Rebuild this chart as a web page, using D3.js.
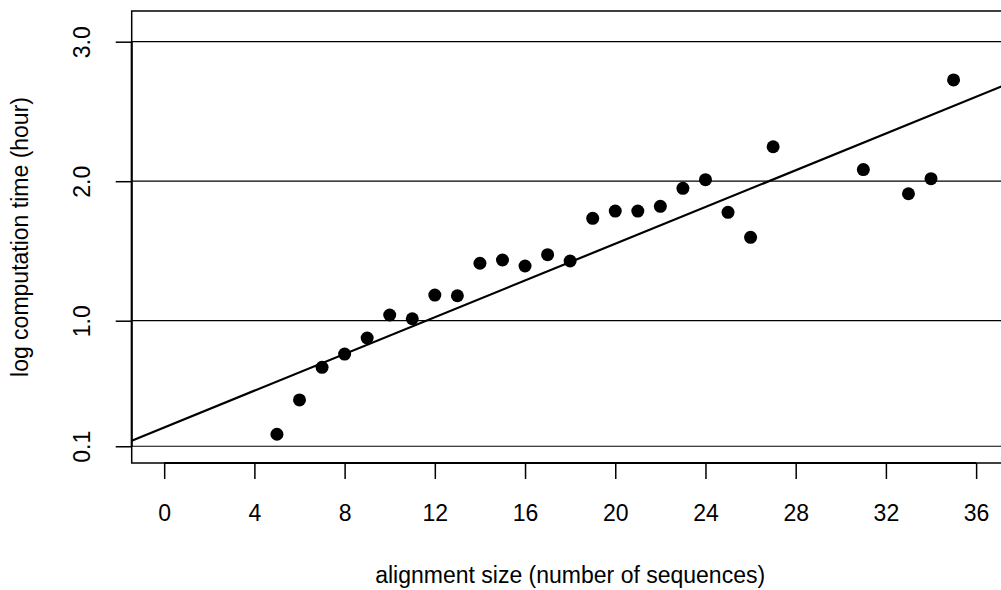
<!DOCTYPE html>
<html>
<head>
<meta charset="utf-8">
<script src="https://cdn.jsdelivr.net/npm/d3@7"></script>
<style>
  html, body { margin: 0; padding: 0; background: #fff; }
  svg text { font-family: "Liberation Sans", Arial, sans-serif; font-size: 23px; fill: #000; }
</style>
</head>
<body>
<div id="chart"></div>
<script>
// alignment size (number of sequences)
const SIZES = [5, 6, 7, 8, 9, 10, 11, 12, 13, 14, 15, 16, 17, 18, 19, 20, 21, 22, 23, 24, 25, 26, 27, 31, 33, 34, 35];
// log computation time (hour)
const LOG_TIMES = [0.186, 0.432, 0.666, 0.761, 0.876, 1.041, 1.014, 1.184, 1.179, 1.412, 1.435, 1.392, 1.473, 1.428,
  1.734, 1.786, 1.786, 1.82, 1.949, 2.011, 1.777, 1.598, 2.247, 2.083, 1.91, 2.018, 2.726];

// fitted line
const FIT_INTERCEPT = 0.2348;
const FIT_SLOPE = 0.06585;

const X_TICKS = [0, 4, 8, 12, 16, 20, 24, 28, 32, 36];
const Y_TICKS = [0.1, 1.0, 2.0, 3.0];
const Y_TICK_LABELS = ["0.1", "1.0", "2.0", "3.0"];

const renderChart = () => {
  const W = 1001, H = 590;
  const pLeft = 131.7, pRight = 1008.6, pTop = 11, pBottom = 463;

  const x = d3.scaleLinear().domain([-1.44, 37.44]).range([pLeft, pRight]);
  const y = d3.scaleLinear().domain([-0.02, 3.22]).range([pBottom, pTop]);

  const svg = d3.select("#chart").append("svg")
    .attr("width", W)
    .attr("height", H);

  // horizontal reference lines
  svg.append("g").selectAll("line")
    .data(Y_TICKS)
    .join("line")
    .attr("x1", pLeft)
    .attr("x2", pRight)
    .attr("y1", (d) => y(d))
    .attr("y2", (d) => y(d))
    .attr("stroke", "#000")
    .attr("stroke-width", 1.2);

  // fitted line
  const [x0, x1] = x.domain();
  svg.append("line")
    .attr("x1", x(x0))
    .attr("y1", y(FIT_INTERCEPT + FIT_SLOPE * x0))
    .attr("x2", x(x1))
    .attr("y2", y(FIT_INTERCEPT + FIT_SLOPE * x1))
    .attr("stroke", "#000")
    .attr("stroke-width", 2.2);

  // points
  svg.append("g").selectAll("circle")
    .data(SIZES.map((s, i) => ({ s, t: LOG_TIMES[i] })))
    .join("circle")
    .attr("cx", (d) => x(d.s))
    .attr("cy", (d) => y(d.t))
    .attr("r", 6.5)
    .attr("fill", "#000");

  // box
  svg.append("rect")
    .attr("x", pLeft)
    .attr("y", pTop)
    .attr("width", pRight - pLeft)
    .attr("height", pBottom - pTop)
    .attr("fill", "none")
    .attr("stroke", "#000")
    .attr("stroke-width", 1.5);

  // x axis
  const gx = svg.append("g")
    .attr("transform", `translate(0,${pBottom})`)
    .call(d3.axisBottom(x).tickValues(X_TICKS).tickSize(16).tickSizeOuter(0));
  gx.select(".domain").remove();
  gx.selectAll(".tick line").attr("stroke", "#000").attr("stroke-width", 1.5);
  gx.selectAll(".tick text")
    .attr("y", 57.5)
    .attr("dy", null)
    .attr("fill", "#000")
    .attr("font-family", null)
    .attr("font-size", null);
  gx.append("line")
    .attr("x1", x(X_TICKS[0]))
    .attr("x2", x(X_TICKS[X_TICKS.length - 1]))
    .attr("stroke", "#000")
    .attr("stroke-width", 2);

  // y axis
  const gy = svg.append("g")
    .attr("transform", `translate(${pLeft},0)`)
    .call(d3.axisLeft(y).tickValues(Y_TICKS).tickFormat((d, i) => Y_TICK_LABELS[i]).tickSize(16).tickSizeOuter(0));
  gy.select(".domain").remove();
  gy.selectAll(".tick line").attr("stroke", "#000").attr("stroke-width", 1.5);
  gy.selectAll(".tick text")
    .attr("x", null)
    .attr("dy", null)
    .attr("text-anchor", "middle")
    .attr("transform", "translate(-42,0) rotate(-90)")
    .attr("fill", "#000");
  gy.append("line")
    .attr("y1", y(Y_TICKS[0]))
    .attr("y2", y(Y_TICKS[Y_TICKS.length - 1]))
    .attr("stroke", "#000")
    .attr("stroke-width", 2);
  svg.selectAll("g").attr("font-family", null).attr("font-size", null);

  // axis titles
  svg.append("text")
    .attr("x", (pLeft + pRight) / 2)
    .attr("y", 583)
    .attr("text-anchor", "middle")
    .text("alignment size (number of sequences)");

  svg.append("text")
    .attr("transform", `translate(28,${(pTop + pBottom) / 2}) rotate(-90)`)
    .attr("text-anchor", "middle")
    .text("log computation time (hour)");
};

renderChart();
</script>
</body>
</html>
